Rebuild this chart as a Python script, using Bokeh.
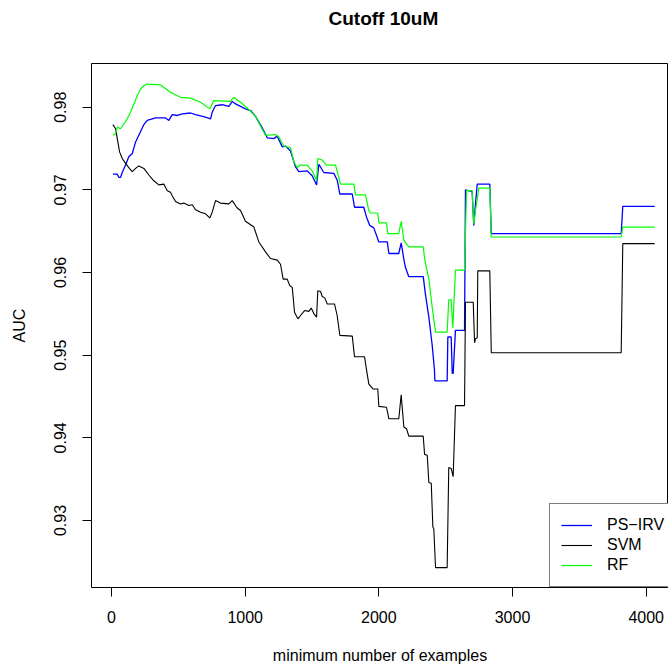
from bokeh.plotting import figure
from bokeh.models import Range1d, FixedTicker, Legend, LegendItem, Title
from bokeh.embed import file_html
from bokeh.resources import INLINE

title_text = "Cutoff 10uM"
x_label = "minimum number of examples"
y_label = "AUC"
x_ticks = [0, 1000, 2000, 3000, 4000]
y_ticks = [0.93, 0.94, 0.95, 0.96, 0.97, 0.98]
series_names = ["PS\u2212IRV", "SVM", "RF"]
series_colors = ["#0000FF", "#000000", "#00FF00"]

psirv_x = [10, 43, 55, 67, 80, 105, 129, 155, 180, 204, 242, 267, 329, 404, 429, 454, 492, 529, 591, 628,
           703, 741, 753, 778, 828, 878, 903, 928, 965, 1002, 1040, 1077, 1102, 1127, 1165, 1214, 1240, 1277,
           1302, 1339, 1376, 1401, 1464, 1501, 1534, 1551, 1588, 1663, 1688, 1708, 1801, 1818, 1887, 1908,
           1932, 1962, 2000, 2063, 2075, 2149, 2167, 2187, 2199, 2224, 2332, 2349, 2374, 2399, 2416, 2419,
           2511, 2516, 2541, 2549, 2556, 2573, 2641, 2648, 2698, 2710, 2723, 2736, 2830, 2841, 3813, 3825, 4064]
psirv_y = [0.9719, 0.9719, 0.9715, 0.9715, 0.9721, 0.9730, 0.9740, 0.9744, 0.9758, 0.9766, 0.9779, 0.9784,
           0.9787, 0.9787, 0.9784, 0.9791, 0.9790, 0.9792, 0.9793, 0.9791, 0.9788, 0.9786, 0.9794, 0.9802,
           0.9803, 0.9801, 0.9807, 0.9804, 0.9801, 0.9798, 0.9796, 0.9789, 0.9782, 0.9775, 0.9763, 0.9762,
           0.9765, 0.9752, 0.9753, 0.9747, 0.9728, 0.9722, 0.9723, 0.9717, 0.9706, 0.9731, 0.9721, 0.9720,
           0.9712, 0.9695, 0.9695, 0.9679, 0.9679, 0.9667, 0.9657, 0.9654, 0.9637, 0.9637, 0.9623, 0.9623,
           0.9636, 0.9616, 0.9606, 0.9595, 0.9595, 0.9573, 0.9546, 0.9512, 0.9482, 0.9469, 0.9469, 0.9522,
           0.9522, 0.9478, 0.9478, 0.9530, 0.9530, 0.9700, 0.9698, 0.9657, 0.9683, 0.9707, 0.9707, 0.9647,
           0.9647, 0.9680, 0.9680]

svm_x = [10, 30, 43, 60, 80, 105, 129, 155, 180, 204, 242, 279, 316, 354, 391, 417, 441, 454, 479, 516,
         541, 578, 604, 628, 666, 703, 735, 753, 778, 815, 878, 903, 940, 965, 1002, 1065, 1102, 1152, 1189,
         1240, 1264, 1284, 1314, 1334, 1352, 1369, 1394, 1414, 1444, 1476, 1494, 1514, 1534, 1543, 1564,
         1576, 1596, 1614, 1668, 1688, 1708, 1801, 1818, 1893, 1908, 1925, 1958, 1992, 2000, 2057, 2075,
         2149, 2167, 2187, 2207, 2224, 2332, 2342, 2362, 2374, 2392, 2404, 2411, 2424, 2511, 2523, 2541,
         2556, 2573, 2641, 2648, 2706, 2716, 2723, 2736, 2740, 2830, 2841, 3813, 3825, 4064]
svm_y = [0.9779, 0.9774, 0.9762, 0.9746, 0.9738, 0.9732, 0.9727, 0.9722, 0.9726, 0.9729, 0.9726, 0.9718,
         0.9711, 0.9706, 0.9707, 0.9699, 0.9697, 0.9693, 0.9686, 0.9683, 0.9684, 0.9681, 0.9682, 0.9676,
         0.9673, 0.9671, 0.9666, 0.9673, 0.9687, 0.9684, 0.9683, 0.9687, 0.9678, 0.9675, 0.9662, 0.9655,
         0.9637, 0.9625, 0.9617, 0.9615, 0.9610, 0.9592, 0.9592, 0.9584, 0.9582, 0.9552, 0.9544, 0.9548,
         0.9554, 0.9553, 0.9557, 0.9550, 0.9546, 0.9578, 0.9577, 0.9571, 0.9569, 0.9562, 0.9562, 0.9548,
         0.9524, 0.9523, 0.9498, 0.9498, 0.9482, 0.9465, 0.9459, 0.9459, 0.9438, 0.9437, 0.9423, 0.9423,
         0.9452, 0.9413, 0.9411, 0.9402, 0.9402, 0.9380, 0.9379, 0.9346, 0.9345, 0.9292, 0.9290, 0.9243,
         0.9243, 0.9364, 0.9363, 0.9353, 0.9439, 0.9439, 0.9564, 0.9564, 0.9515, 0.9520, 0.9521, 0.9602,
         0.9602, 0.9503, 0.9503, 0.9635, 0.9635]

rf_x = [10, 30, 43, 67, 92, 117, 142, 167, 192, 217, 242, 267, 367, 441, 466, 516, 591, 666, 735, 765,
        890, 915, 965, 1015, 1077, 1115, 1152, 1227, 1252, 1289, 1339, 1364, 1389, 1414, 1464, 1501, 1534,
        1543, 1576, 1608, 1676, 1713, 1813, 1825, 1900, 1925, 1938, 1992, 2000, 2057, 2067, 2149, 2167,
        2187, 2224, 2332, 2344, 2374, 2399, 2424, 2511, 2523, 2541, 2553, 2573, 2641, 2656, 2698, 2710,
        2723, 2748, 2830, 2841, 3813, 3825, 4064]
rf_y = [0.9766, 0.9768, 0.9776, 0.9774, 0.9780, 0.9786, 0.9794, 0.9804, 0.9814, 0.9822, 0.9826, 0.9828,
        0.9827, 0.9818, 0.9816, 0.9812, 0.9811, 0.9806, 0.9798, 0.9808, 0.9807, 0.9812, 0.9806, 0.9799,
        0.9789, 0.9777, 0.9766, 0.9767, 0.9764, 0.9753, 0.9751, 0.9734, 0.9727, 0.9730, 0.9730, 0.9723,
        0.9711, 0.9738, 0.9736, 0.9730, 0.9730, 0.9707, 0.9707, 0.9694, 0.9694, 0.9675, 0.9672, 0.9672,
        0.9660, 0.9660, 0.9647, 0.9647, 0.9662, 0.9639, 0.9631, 0.9631, 0.9615, 0.9592, 0.9558, 0.9528,
        0.9528, 0.9567, 0.9567, 0.9533, 0.9603, 0.9603, 0.9699, 0.9699, 0.9659, 0.9675, 0.9702, 0.9702,
        0.9643, 0.9643, 0.9655, 0.9655]

FONT = "Liberation Sans"

p = figure(width=668, height=666, output_backend="svg", toolbar_location=None,
           x_range=Range1d(-150, 4167), y_range=Range1d(0.92189, 0.98529),
           min_border_left=91, min_border_right=0, min_border_top=63, min_border_bottom=79,
           background_fill_color="white", border_fill_color="white")
p.outline_line_color = "black"
p.outline_line_width = 1
p.grid.visible = False

# thin spacer panel between the frame and the title
p.add_layout(Title(text=" ", standoff=32, text_font_size="1px", text_color="white"), "above")

p.title.text = title_text
p.title.align = "left"
p.title.offset = 237
p.title.vertical_align = "bottom"
p.title.text_font = FONT
p.title.text_font_size = "19px"
p.title.text_font_style = "bold"
p.title.text_color = "black"
p.title.standoff = 0

for ax in (p.xaxis[0], p.yaxis[0]):
    ax.axis_line_color = None
    ax.major_tick_out = 9
    ax.major_tick_in = 0
    ax.minor_tick_out = 0
    ax.minor_tick_in = 0
    ax.major_tick_line_color = "black"
    ax.major_label_text_font = FONT
    ax.major_label_text_font_size = "16px"
    ax.major_label_text_color = "black"
    ax.axis_label_text_font = FONT
    ax.axis_label_text_font_size = "16px"
    ax.axis_label_text_font_style = "normal"
    ax.axis_label_text_color = "black"

p.xaxis[0].ticker = FixedTicker(ticks=x_ticks)
p.yaxis[0].ticker = FixedTicker(ticks=y_ticks)
p.xaxis[0].axis_label = x_label
p.yaxis[0].axis_label = y_label
p.xaxis[0].major_label_standoff = 14
p.yaxis[0].major_label_standoff = 16
p.yaxis[0].major_label_orientation = "vertical"
p.xaxis[0].axis_label_standoff = 21
p.yaxis[0].axis_label_standoff = 24

r1 = p.line(psirv_x, psirv_y, line_color=series_colors[0], line_width=1.3)
r2 = p.line(svm_x, svm_y, line_color=series_colors[1], line_width=1.1)
r3 = p.line(rf_x, rf_y, line_color=series_colors[2], line_width=1.2)

legend = Legend(items=[LegendItem(label=series_names[0], renderers=[r1]),
                       LegendItem(label=series_names[1], renderers=[r2]),
                       LegendItem(label=series_names[2], renderers=[r3])],
                location=(458, 0), margin=0, padding=11, spacing=0,
                glyph_width=31, glyph_height=20, label_height=20, label_standoff=15,
                label_text_font=FONT, label_text_font_size="16px", label_text_color="black",
                border_line_color="black", border_line_width=1,
                background_fill_color="white", background_fill_alpha=1.0)
p.add_layout(legend, "center")

open("out.html", "w").write(file_html(p, INLINE))
